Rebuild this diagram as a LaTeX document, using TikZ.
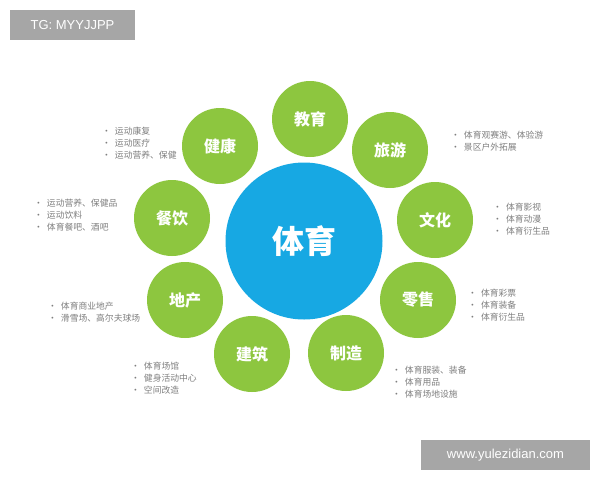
\documentclass[tikz,border=0pt]{standalone}
\usepackage{fontspec}
\setmainfont{Liberation Sans}
\newfontfamily\cjk{Noto Sans CJK SC}
\definecolor{grn}{HTML}{8DC63F}
\definecolor{blu}{HTML}{17A8E3}
\definecolor{tagg}{HTML}{A6A6A6}
\definecolor{txtg}{HTML}{7F7F7F}
\begin{document}
\begin{tikzpicture}[x=1pt,y=-1pt,
  sat/.style={circle,fill=grn,minimum size=76pt,inner sep=0pt,text=white,font=\cjk\bfseries\fontsize{16}{16}\selectfont},
  hub/.style={circle,fill=blu,minimum size=157pt,inner sep=0pt,text=white,font=\cjk\bfseries\fontsize{32}{32}\selectfont},
  tag/.style={fill=tagg,text=white,inner sep=0pt,font=\fontsize{13}{13}\selectfont},
  lst/.style={anchor=north west,align=left,inner sep=0pt,text=txtg,font=\cjk\fontsize{8.8}{11.7}\selectfont}]
\useasboundingbox (0,0) rectangle (600,480);
\fill[white] (0,0) rectangle (600,480);
\node[tag,minimum width=125pt,minimum height=30pt] (tg) at (72.5,25) {TG: MYYJJPP};
\node[tag,minimum width=169pt,minimum height=30pt] (www) at (505.5,455) {www.yulezidian.com};
\node[hub] (c) at (304,241) {体育};
\node[sat] (jy) at (310,119) {教育};
\node[sat] (ly) at (390,150) {旅游};
\node[sat] (wh) at (435,220) {文化};
\node[sat] (ls) at (418,300) {零售};
\node[sat] (zz) at (346,353) {制造};
\node[sat] (jz) at (252,354) {建筑};
\node[sat] (dc) at (185,300) {地产};
\node[sat] (cy) at (172,218) {餐饮};
\node[sat] (jk) at (220,146) {健康};
\node[lst] (ljk) at (102,127) {•\hspace{4pt}运动康复\\•\hspace{4pt}运动医疗\\•\hspace{4pt}运动营养、保健};
\node[lst] (lly) at (451,131) {•\hspace{4pt}体育观赛游、体验游\\•\hspace{4pt}景区户外拓展};
\node[lst] (lcy) at (34,199) {•\hspace{4pt}运动营养、保健品\\•\hspace{4pt}运动饮料\\•\hspace{4pt}体育餐吧、酒吧};
\node[lst] (lwh) at (493,203) {•\hspace{4pt}体育影视\\•\hspace{4pt}体育动漫\\•\hspace{4pt}体育衍生品};
\node[lst] (ldc) at (48,302) {•\hspace{4pt}体育商业地产\\•\hspace{4pt}滑雪场、高尔夫球场};
\node[lst] (lls) at (468,289) {•\hspace{4pt}体育彩票\\•\hspace{4pt}体育装备\\•\hspace{4pt}体育衍生品};
\node[lst] (ljz) at (131,362) {•\hspace{4pt}体育场馆\\•\hspace{4pt}健身活动中心\\•\hspace{4pt}空间改造};
\node[lst] (lzz) at (392,366) {•\hspace{4pt}体育服装、装备\\•\hspace{4pt}体育用品\\•\hspace{4pt}体育场地设施};
\end{tikzpicture}
\end{document}
